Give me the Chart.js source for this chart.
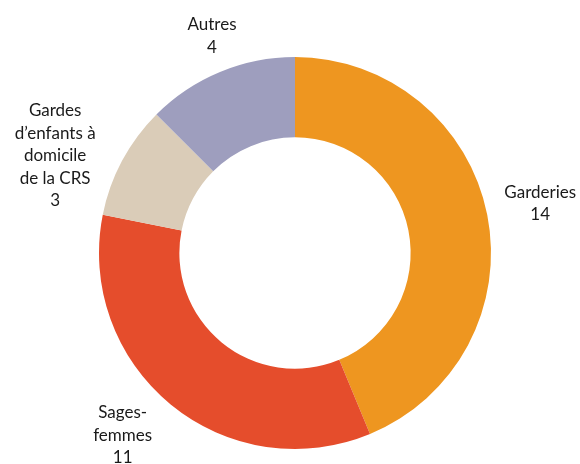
<!DOCTYPE html>
<html>
<head>
<meta charset="utf-8">
<script src="https://cdn.jsdelivr.net/npm/chart.js@4/dist/chart.umd.min.js"></script>
<style>
  html, body { margin: 0; padding: 0; background: #fff; }
  #wrap { width: 580px; height: 464px; position: relative; }
</style>
</head>
<body>
<div id="wrap"><canvas id="chartGardes"></canvas></div>
<script>
// Données
const categories = [['Garderies'], ['Sages-', 'femmes'], ['Gardes', 'd’enfants à', 'domicile', 'de la CRS'], ['Autres']];
const valeurs = [14, 11, 3, 4];
const couleurs = ['#EE9620', '#E54D2C', '#DACCB8', '#9E9EBE'];

// décalage des étiquettes par rapport au bord extérieur de chaque part
const decalages = [[53, -11], [-48, 31], [-67, -5], [-8, -36]];

const etiquettesPlugin = {
    id: 'etiquettes',
    afterDraw(chart) {
        const ctx = chart.ctx;
        const meta = chart.getDatasetMeta(0);
        ctx.save();
        ctx.font = '17px Lato, "Noto Sans", sans-serif';
        ctx.fillStyle = '#1a1a1a';
        ctx.textAlign = 'center';
        ctx.textBaseline = 'middle';
        const hauteurLigne = 22.5;
        meta.data.forEach((arc, i) => {
            const p = arc.getProps(['x', 'y', 'startAngle', 'endAngle', 'outerRadius'], true);
            const milieu = (p.startAngle + p.endAngle) / 2;
            const x = p.x + Math.cos(milieu) * p.outerRadius + decalages[i][0];
            const y = p.y + Math.sin(milieu) * p.outerRadius + decalages[i][1];
            const lignes = categories[i].concat([String(valeurs[i])]);
            const debut = y - (lignes.length - 1) * hauteurLigne / 2;
            lignes.forEach((ligne, j) => {
                ctx.fillText(ligne, x, debut + j * hauteurLigne);
            });
        });
        ctx.restore();
    }
};

new Chart(document.getElementById('chartGardes').getContext('2d'), {
    type: 'doughnut',
    data: {
        labels: categories.map(c => c.join(' ')),
        datasets: [{
            data: valeurs,
            backgroundColor: couleurs,
            borderWidth: 0
        }]
    },
    options: {
        responsive: true,
        maintainAspectRatio: false,
        animation: false,
        cutout: '59%',
        layout: {
            padding: { top: 57, bottom: 15, left: 94, right: 84 }
        },
        plugins: {
            legend: { display: false },
            tooltip: { enabled: false }
        }
    },
    plugins: [etiquettesPlugin]
});
</script>
</body>
</html>
